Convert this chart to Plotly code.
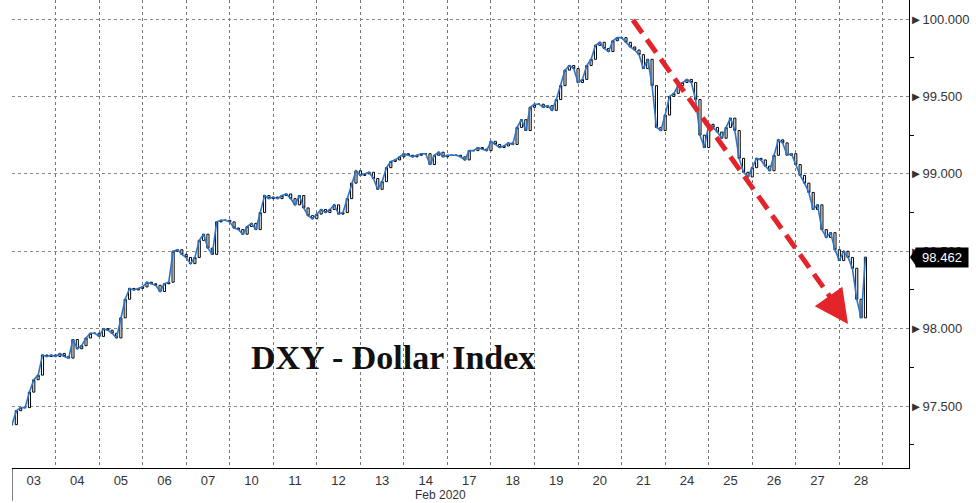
import plotly.graph_objects as go

# DXY intraday closes, 10 samples per trading day (Feb 2020)
day_labels = ['03', '04', '05', '06', '07', '10', '11', '12', '13', '14',
              '17', '18', '19', '20', '21', '24', '25', '26', '27', '28']

feb03 = [97.38, 97.47, 97.49, 97.49, 97.59, 97.67, 97.70, 97.83, 97.82, 97.83]
feb04 = [97.82, 97.84, 97.82, 97.81, 97.93, 97.87, 97.89, 97.94, 97.97, 97.97]
feb05 = [97.95, 98.00, 97.99, 97.97, 97.94, 98.07, 98.19, 98.26, 98.25, 98.26]
feb06 = [98.27, 98.30, 98.29, 98.28, 98.24, 98.29, 98.30, 98.50, 98.51, 98.48]
feb07 = [98.46, 98.42, 98.46, 98.57, 98.61, 98.52, 98.48, 98.69, 98.70, 98.70]
feb10 = [98.69, 98.65, 98.64, 98.61, 98.66, 98.68, 98.64, 98.75, 98.86, 98.84]
feb11 = [98.85, 98.84, 98.86, 98.87, 98.84, 98.80, 98.86, 98.78, 98.73, 98.71]
feb12 = [98.74, 98.77, 98.75, 98.77, 98.80, 98.74, 98.75, 98.84, 98.94, 99.02]
feb13 = [98.99, 99.00, 99.01, 98.97, 98.90, 98.95, 99.04, 99.08, 99.09, 99.11]
feb14 = [99.13, 99.12, 99.11, 99.12, 99.13, 99.13, 99.06, 99.12, 99.14, 99.11]
feb17 = [99.12, 99.12, 99.12, 99.11, 99.09, 99.15, 99.15, 99.17, 99.16, 99.15]
feb18 = [99.21, 99.19, 99.17, 99.18, 99.20, 99.19, 99.30, 99.35, 99.28, 99.43]
feb19 = [99.45, 99.45, 99.43, 99.44, 99.41, 99.48, 99.57, 99.67, 99.70, 99.68]
feb20 = [99.59, 99.61, 99.70, 99.74, 99.83, 99.85, 99.81, 99.79, 99.86, 99.88]
feb21 = [99.88, 99.85, 99.82, 99.80, 99.77, 99.68, 99.74, 99.57, 99.30, 99.28]
feb24 = [99.38, 99.50, 99.52, 99.57, 99.59, 99.61, 99.59, 99.48, 99.25, 99.17]
feb25 = [99.32, 99.30, 99.27, 99.23, 99.30, 99.36, 99.28, 99.10, 99.01, 98.98]
feb26 = [99.04, 99.10, 99.09, 99.05, 99.02, 99.12, 99.22, 99.20, 99.12, 99.13]
feb27 = [99.06, 98.99, 98.94, 98.88, 98.77, 98.80, 98.64, 98.59, 98.62, 98.51]
feb28 = [98.44, 98.50, 98.46, 98.39, 98.19, 98.07, 98.462]

daily = [feb03, feb04, feb05, feb06, feb07, feb10, feb11, feb12, feb13, feb14,
         feb17, feb18, feb19, feb20, feb21, feb24, feb25, feb26, feb27, feb28]
samples_per_day = 10

x_pos = []
closes = []
for i, vals in enumerate(daily):
    for k, v in enumerate(vals):
        x_pos.append(i + k / samples_per_day)
        closes.append(v)
opens = [closes[0]] + closes[:-1]
highs = [max(o, c) for o, c in zip(opens, closes)]
lows = [min(o, c) for o, c in zip(opens, closes)]
last_value = closes[-1]

fig = go.Figure()
fig.add_trace(go.Candlestick(
    x=x_pos, open=opens, high=highs, low=lows, close=closes,
    increasing=dict(line=dict(color='black', width=1), fillcolor='white'),
    decreasing=dict(line=dict(color='black', width=1), fillcolor='white'),
    showlegend=False, hoverinfo='skip'
))
fig.add_trace(go.Scatter(
    x=x_pos, y=closes, mode='lines',
    line=dict(color='#2E75C8', width=1.6),
    showlegend=False, hoverinfo='skip'
))

# red dashed trend arrow
fig.add_shape(type='line', xref='x', yref='y',
              x0=14.26, y0=99.994, x1=18.93, y1=98.15,
              line=dict(color='#E3242B', width=5, dash='16px,8px'))
fig.add_annotation(x=19.20, y=98.030, xref='x', yref='y', text='',
                   showarrow=True, arrowhead=2, arrowsize=1.35, arrowwidth=5,
                   arrowcolor='#E3242B', ax=-17, ay=-24)

fig.add_annotation(x=0.4248, y=0.237, xref='paper', yref='paper',
                   xanchor='center', yanchor='middle',
                   text='<b>DXY - Dollar Index</b>', showarrow=False,
                   font=dict(family='Liberation Serif', size=34, color='#111'))
fig.add_annotation(x=0.478, y=-0.058, xref='paper', yref='paper',
                   xanchor='center', yanchor='middle',
                   text='Feb 2020', showarrow=False,
                   font=dict(family='Liberation Sans', size=12, color='#333'))

# last price box with pointer
fig.add_annotation(x=1, y=last_value, xref='paper', yref='y', xanchor='left',
                   yanchor='middle', xshift=6, text=f'{last_value:.3f}',
                   showarrow=False, bgcolor='black', borderpad=2, width=48,
                   font=dict(family='Liberation Sans', size=13, color='white'))
fig.add_shape(type='path', xref='paper', yref='y',
              path=f'M {1 + 1/897},{last_value} L {1 + 7/897},{last_value + 0.058} '
                   f'L {1 + 7/897},{last_value - 0.058} Z',
              fillcolor='black', line=dict(width=0))

# month separator below the axis
fig.add_shape(type='line', xref='x', yref='paper', x0=0, x1=0, y0=0, y1=-0.07,
              line=dict(color='black', width=1))

fig.update_layout(
    width=976, height=503,
    margin=dict(l=12, r=67, t=0, b=35),
    plot_bgcolor='white', paper_bgcolor='white',
    xaxis=dict(
        range=[0, 20.6], rangeslider=dict(visible=False),
        tickmode='array', tickvals=[i + 0.5 for i in range(len(day_labels))],
        ticktext=day_labels, ticks='', showgrid=False, zeroline=False,
        showline=True, linecolor='black', linewidth=1,
        tickfont=dict(family='Liberation Sans', size=13, color='#333'),
        minor=dict(tickmode='linear', tick0=0, dtick=1, ticks='',
                   showgrid=True, gridcolor='#777', griddash='dot', gridwidth=1)
    ),
    yaxis=dict(
        side='right', range=[97.10, 100.123],
        tickmode='linear', tick0=97.5, dtick=0.5, tickformat='.3f',
        tickprefix='►', showtickprefix='all', ticks='', ticklabelstandoff=-3,
        showgrid=True, gridcolor='#888', griddash='dot', gridwidth=1,
        zeroline=False, showline=True, linecolor='black', linewidth=1,
        tickfont=dict(family='Liberation Sans', size=13, color='#333'),
        minor=dict(tickmode='linear', tick0=97.25, dtick=0.5, ticks='outside',
                   ticklen=4, tickcolor='black', showgrid=False)
    )
)

fig.write_html('out.html', config={'displayModeBar': False},
               post_script='document.body.style.margin = "0";')
